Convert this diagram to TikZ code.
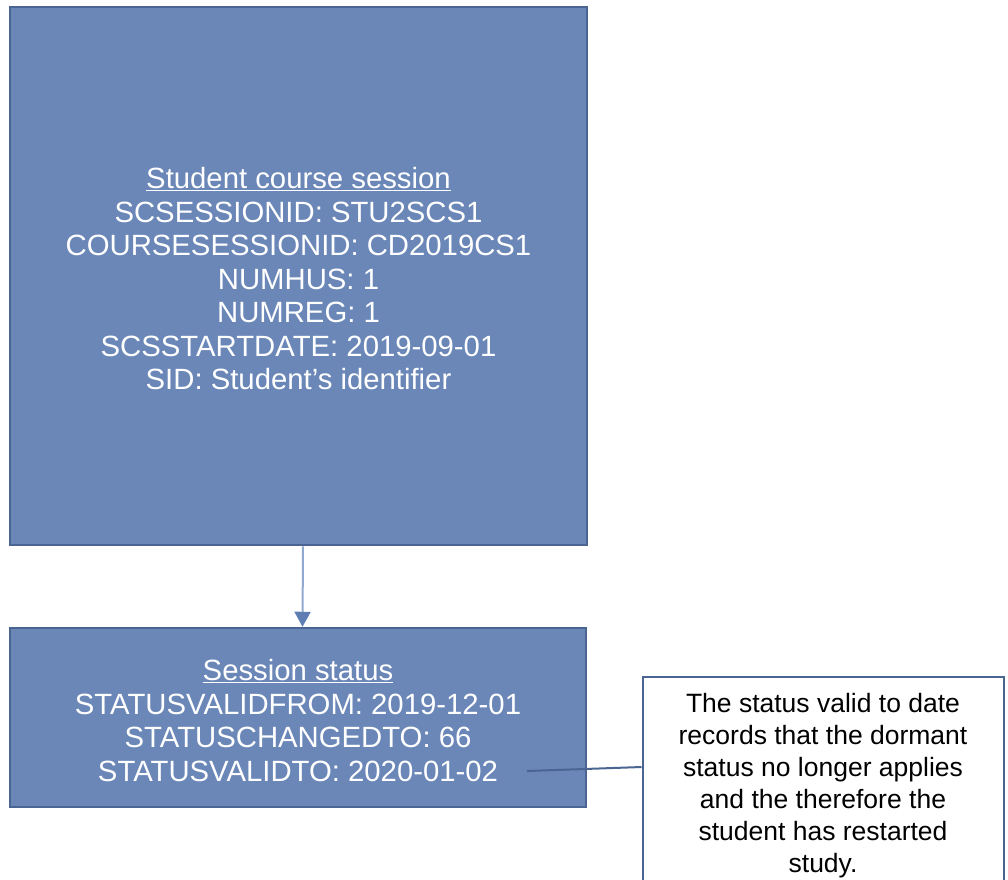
\documentclass[tikz,border=0pt]{standalone}
\usepackage{fontspec}
\setmainfont{Liberation Sans}
\usetikzlibrary{arrows.meta}
\definecolor{boxfill}{RGB}{106,135,184}
\definecolor{boxedge}{RGB}{74,101,146}
\definecolor{arrowline}{RGB}{146,169,207}
\definecolor{arrowhead}{RGB}{94,125,179}
\newcommand{\toplift}{\rule{0pt}{27pt}}
\begin{document}
\begin{tikzpicture}[x=1pt,y=-1pt,
  entity/.style={draw=boxedge, line width=2.5pt, fill=boxfill, text=white,
    font=\fontsize{29.3}{33.5}\selectfont, align=center, inner sep=0pt},
  note/.style={draw=boxedge, line width=2pt, fill=white, inner sep=0pt},
  notetext/.style={font=\fontsize{26.5}{32}\selectfont, align=center, text=black, inner sep=0pt},
  link/.style={draw=arrowline, line width=2pt,
    -{Triangle[length=15pt,width=16pt,color=arrowhead,fill=arrowhead]}},
  leader/.style={draw=boxedge, line width=2pt}]
\useasboundingbox (0,0) rectangle (1008,879);
\node[entity, minimum width=577, minimum height=538] (scs) at (298.5,276)
  {\toplift\underline{Student course session}\\
   SCSESSIONID: STU2SCS1\\
   COURSESESSIONID: CD2019CS1\\
   NUMHUS: 1\\
   NUMREG: 1\\
   SCSSTARTDATE: 2019-09-01\\
   SID: Student’s identifier};
\node[entity, minimum width=576, minimum height=179] (ss) at (298,717.5)
  {\toplift\underline{Session status}\\
   STATUSVALIDFROM: 2019-12-01\\
   STATUSCHANGEDTO: 66\\
   STATUSVALIDTO: 2020-01-02};
\node[note, minimum width=361, minimum height=260] (note) at (823,807) {};
\node[notetext, anchor=north] (notet) at (823,693)
  {The status valid to date\\
   records that the dormant\\
   status no longer applies\\
   and the therefore the\\
   student has restarted\\
   study.};
\draw[link] ([xshift=4.5pt]scs.south) -- ([xshift=4.5pt]ss.north);
\coordinate (lstart) at (527,771);
\coordinate (lend) at (note.west |- 0,767);
\draw[leader] (lstart) -- (lend);
\end{tikzpicture}
\end{document}
